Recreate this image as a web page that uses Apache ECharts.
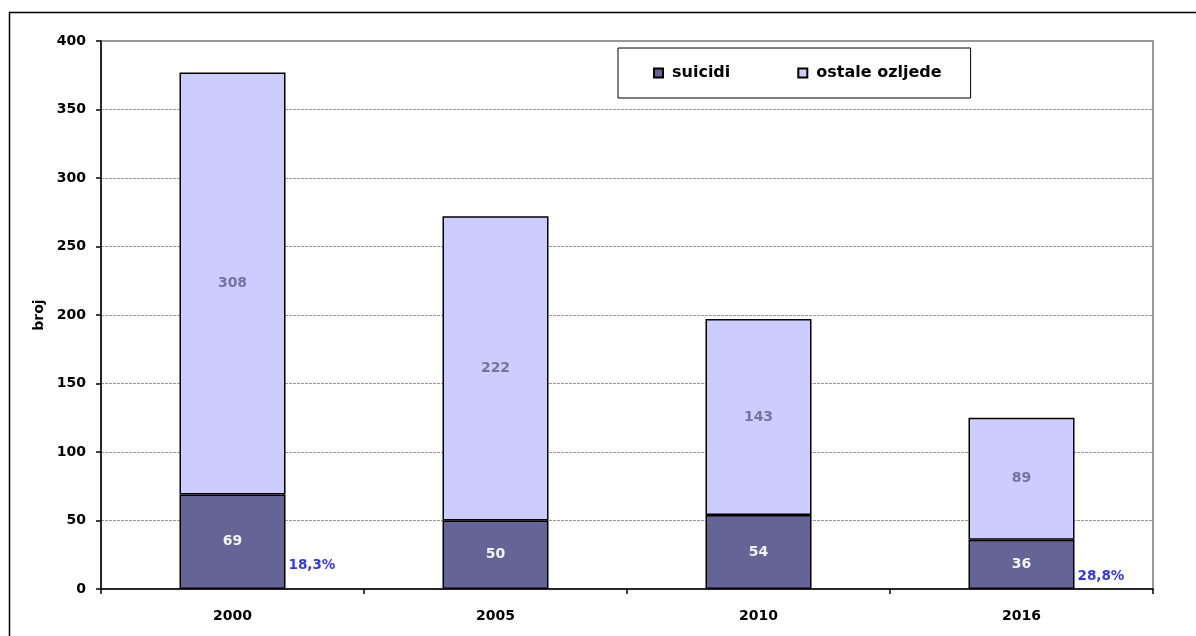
<!DOCTYPE html>
<html>
<head>
<meta charset="utf-8">
<script src="https://cdn.jsdelivr.net/npm/echarts@6/dist/echarts.min.js"></script>
<style>
html,body{margin:0;padding:0;background:#fff;}
#c{width:1196px;height:636px;}
</style>
</head>
<body>
<div id="c"></div>
<script>
const categories = ['2000', '2005', '2010', '2016'];
const suicidi = [69, 50, 54, 36];
const ostale = [308, 222, 143, 89];
const pctLabels = ['18,3%', '', '', '28,8%'];
const pctY = [17, null, null, 9];
const yTicks = [0, 50, 100, 150, 200, 250, 300, 350, 400];

const font = '"DejaVu Sans", Verdana, sans-serif';
const chart = echarts.init(document.getElementById('c'));

const pctData = [];
categories.forEach((c, i) => {
  if (pctLabels[i]) pctData.push({ value: [c, pctY[i]], label: { formatter: pctLabels[i] } });
});

chart.setOption({
  animation: false,
  backgroundColor: '#fff',
  graphic: [{
    type: 'rect',
    shape: { x: 9.5, y: 12.5, width: 1200, height: 640 },
    style: { fill: 'none', stroke: '#000', lineWidth: 1.5 },
    silent: true
  }],
  grid: { left: 101, right: 43, top: 41, bottom: 47, show: true, borderColor: '#777', borderWidth: 1.5, backgroundColor: 'transparent' },
  legend: {
    data: ['suicidi', 'ostale ozljede'],
    left: 618, top: 48,
    padding: [17, 29, 17, 35],
    itemGap: 67,
    itemWidth: 9, itemHeight: 9,
    icon: 'rect',
    borderColor: '#000', borderWidth: 1,
    backgroundColor: '#fff',
    textStyle: { fontFamily: font, fontWeight: 'bold', fontSize: 16, color: '#000', padding: [0, 0, 0, 4] }
  },
  xAxis: {
    type: 'category',
    data: categories,
    axisLine: { lineStyle: { color: '#000', width: 1.5 } },
    axisTick: { show: true, alignWithLabel: false, length: 5, lineStyle: { color: '#000', width: 1.5 } },
    axisLabel: { fontFamily: font, fontWeight: 'bold', fontSize: 14, color: '#000', margin: 20 }
  },
  yAxis: {
    type: 'value',
    min: 0, max: 400, interval: 50,
    name: 'broj',
    nameLocation: 'middle',
    nameGap: 55,
    nameRotate: 90,
    nameTextStyle: { fontFamily: font, fontWeight: 'bold', fontSize: 14, color: '#000' },
    axisLine: { show: true, lineStyle: { color: '#000', width: 1.5 } },
    axisTick: { show: true, length: 5, lineStyle: { color: '#000', width: 1.5 } },
    axisLabel: { fontFamily: font, fontWeight: 'bold', fontSize: 14, color: '#000', margin: 15,
      formatter: v => yTicks.includes(v) ? String(v) : '' },
    splitLine: { show: true, lineStyle: { color: '#999', width: 1, type: [3, 1] } }
  },
  series: [
    {
      name: 'suicidi', type: 'bar', stack: 's', data: suicidi, barWidth: 106,
      itemStyle: { color: '#646496', borderColor: '#000', borderWidth: 1.5 },
      label: { show: true, position: 'inside', fontFamily: font, fontWeight: 'bold', fontSize: 14, color: '#f4f4f4' }
    },
    {
      name: 'ostale ozljede', type: 'bar', stack: 's', data: ostale, barWidth: 106,
      itemStyle: { color: '#ccccff', borderColor: '#000', borderWidth: 1.5 },
      label: { show: true, position: 'inside', fontFamily: font, fontWeight: 'bold', fontSize: 14, color: '#74749e' }
    },
    {
      name: 'pct', type: 'scatter', data: pctData, symbolSize: 0.1, silent: true,
      label: { show: true, position: 'right', distance: 56, fontFamily: font, fontWeight: 'bold', fontSize: 13.5, color: '#0000e6' }
    }
  ]
});
</script>
</body>
</html>
